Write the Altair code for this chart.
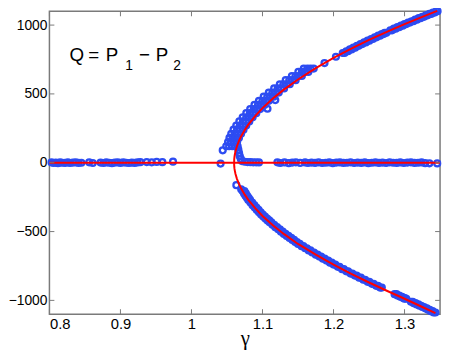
import altair as alt
import pandas as pd

# ---------------- data ----------------
# blue circles lying on Q = 0
zero_g = [0.803, 0.806, 0.809, 0.812, 0.815, 0.818, 0.822, 0.826, 0.829, 0.833, 0.837, 0.841, 0.845,
          0.856, 0.861,
          0.872, 0.876, 0.880, 0.884, 0.888, 0.892, 0.896, 0.900, 0.904, 0.908, 0.912, 0.916, 0.920, 0.924, 0.928,
          0.937, 0.944, 0.951, 0.959, 0.974,
          1.041,
          1.121, 1.125, 1.131, 1.137, 1.142, 1.147, 1.153,
          1.160, 1.164, 1.169, 1.174, 1.179, 1.184, 1.189, 1.194, 1.199, 1.204, 1.209, 1.214, 1.219, 1.224,
          1.229, 1.234, 1.239, 1.244, 1.249, 1.254, 1.259, 1.264, 1.269, 1.274, 1.279, 1.284, 1.289, 1.294,
          1.299, 1.304, 1.309, 1.314, 1.319, 1.324, 1.329,
          1.335, 1.346]
zero_q = [2, -2, 1, -3, 2, 0, -1, 3, -2, 1, 2, -1, 0,
          3, -2,
          1, -2, 2, 0, -3, 1, 2, -1, 3, 0, -2, 1, -1, 2, 4,
          5, 3, 6, 4, 8,
          -6,
          3, -2, 2, -3, 1, 3, -1,
          2, -2, 1, -1, 3, -2, 0, 2, -3, 1, 2, -1, 0, 3,
          -2, 1, -1, 2, -3, 0, 2, -1, 1, -2, 3, 0, -1, 2,
          -2, 1, 3, -1, 0, 2, -3,
          -4, -5]

# circles joining the upper band to the Q = 0 line near the vertex
leg_g = [1.065, 1.066, 1.067, 1.068, 1.0695, 1.071, 1.075, 1.079, 1.083, 1.087, 1.091, 1.095]
leg_q = [120, 95, 70, 48, 28, 12, 7, 5, 4, 3, 3, 2]

# thick band of circles on the upper branch (four rows)
band_left_q = [90, 120, 150, 180, 210, 240, 270, 300, 330, 360, 390, 420, 450, 480, 510, 540, 570, 600, 630, 660, 684]
band_left_g = [1.0440, 1.0490, 1.0515, 1.0535, 1.0560, 1.0592, 1.0631, 1.0674, 1.0721, 1.0772, 1.0827,
               1.0887, 1.0950, 1.1017, 1.1089, 1.1164, 1.1244, 1.1327, 1.1414, 1.1505, 1.1581]
band_inner_q = [120, 150, 180, 210, 240, 270, 300, 330, 360, 390, 420, 450, 480, 510, 540, 570, 600, 630, 660, 684]
band_r3_g = [1.0530, 1.0552, 1.0578, 1.0608, 1.0642, 1.0681, 1.0724, 1.0771, 1.0822, 1.0877, 1.0937,
             1.1000, 1.1067, 1.1139, 1.1214, 1.1294, 1.1377, 1.1464, 1.1555, 1.1631]
band_r2_g = [1.0575, 1.0597, 1.0623, 1.0653, 1.0687, 1.0726, 1.0769, 1.0816, 1.0867, 1.0922, 1.0982,
             1.1045, 1.1112, 1.1184, 1.1259, 1.1339, 1.1422, 1.1509, 1.1600, 1.1676]
band_right_g = [1.0620, 1.0642, 1.0668, 1.0698, 1.0732, 1.0771, 1.0814, 1.0861, 1.0912, 1.0967, 1.1027,
                1.1090, 1.1157, 1.1229, 1.1304, 1.1384, 1.1467, 1.1554, 1.1645, 1.1721]

# isolated circles right of the upper curve
stray_g = [1.107, 1.118]
stray_q = [392, 455]

# circles along the rest of the upper branch
up_g = [1.1873, 1.2034, 1.213, 1.218, 1.223, 1.228, 1.233, 1.238, 1.243, 1.248, 1.253, 1.258, 1.263, 1.268,
        1.272, 1.280, 1.285, 1.290, 1.295, 1.300, 1.305, 1.310, 1.315, 1.320, 1.325, 1.330, 1.335, 1.340, 1.345]
up_q = [724, 770, 797, 810, 823, 836, 849, 862, 874, 887, 899, 911, 923, 935,
        944, 962, 974, 985, 996, 1007, 1018, 1028, 1039, 1050, 1060, 1071, 1081, 1091, 1101]
up2_g = [1.2155, 1.2205, 1.2255, 1.2305, 1.2355, 1.2405, 1.2455, 1.2505, 1.2555, 1.2605, 1.2655, 1.2705,
         1.2745, 1.2825, 1.2875, 1.2925, 1.2975, 1.3025, 1.3075, 1.3125, 1.3175, 1.3225, 1.3275, 1.3325,
         1.3375, 1.3425, 1.3465]
up2_q = [797, 810, 823, 836, 849, 862, 874, 887, 899, 911, 923, 935,
         944, 962, 974, 985, 996, 1007, 1018, 1028, 1039, 1050, 1060, 1071, 1081, 1091, 1101]

# circles along the lower branch
low_g = [1.0632, 1.070, 1.072, 1.074, 1.076, 1.078, 1.080, 1.083, 1.086, 1.089, 1.092, 1.095, 1.098,
         1.101, 1.104, 1.107, 1.110, 1.114, 1.118, 1.122, 1.126, 1.130, 1.134, 1.138, 1.142, 1.146, 1.150,
         1.155, 1.160, 1.165, 1.170, 1.175, 1.180, 1.185, 1.190, 1.195, 1.200, 1.206, 1.212, 1.218, 1.224,
         1.230, 1.236, 1.242, 1.248, 1.254, 1.260, 1.2655, 1.286, 1.290, 1.294, 1.298, 1.300,
         1.309, 1.313, 1.317, 1.321, 1.325, 1.329, 1.333, 1.337, 1.341]
low_q = [-163, -193, -206, -223, -240, -255, -270, -289, -308, -326, -343, -360, -376,
         -391, -405, -419, -433, -451, -468, -484, -501, -517, -532, -546, -561, -576, -590,
         -606, -621, -637, -652, -668, -682, -697, -711, -726, -740, -756, -773, -789, -805,
         -820, -835, -850, -865, -880, -894, -907, -955, -965, -974, -983, -988,
         -1010, -1020, -1029, -1039, -1048, -1058, -1068, -1078, -1088]
low2_g = [1.0745, 1.0765, 1.0785, 1.0805, 1.0825, 1.0855, 1.0885, 1.0915, 1.0945, 1.0975, 1.1005,
          1.1035, 1.1065, 1.1095, 1.1125, 1.1165, 1.1205, 1.1245, 1.1285, 1.1325, 1.1365, 1.1405, 1.1445,
          1.1485, 1.1525, 1.1575, 1.1625, 1.1675, 1.1725, 1.1775, 1.1825, 1.1875, 1.1925, 1.1975, 1.2025,
          1.2085, 1.2145, 1.2205, 1.2265, 1.2325, 1.2385, 1.2445, 1.2505, 1.2565, 1.2625, 1.268,
          1.2885, 1.2925, 1.2965, 1.3005, 1.3025, 1.3115, 1.3155, 1.3195, 1.3235, 1.3275, 1.3315, 1.3355,
          1.3395, 1.3435]
low2_q = [-206, -223, -240, -255, -270, -289, -308, -326, -343, -360, -376,
          -391, -405, -419, -433, -451, -468, -484, -501, -517, -532, -546, -561,
          -576, -590, -606, -621, -637, -652, -668, -682, -697, -711, -726, -740,
          -756, -773, -789, -805, -820, -835, -850, -865, -880, -894, -907,
          -955, -965, -974, -983, -988, -1010, -1020, -1029, -1039, -1048, -1058, -1068,
          -1078, -1088]

# red theoretical curve
red_up_g = [1.0600, 1.0602, 1.0605, 1.061, 1.062, 1.064, 1.067, 1.070, 1.075, 1.080, 1.090, 1.100, 1.115,
            1.130, 1.150, 1.175, 1.200, 1.225, 1.250, 1.275, 1.300, 1.325, 1.346]
red_up_q = [0, 25, 41, 58, 84, 120, 160, 193, 238, 277, 341, 397, 468,
            531, 605, 687, 761, 829, 892, 951, 1007, 1060, 1103]
red_lo_g = [1.0602, 1.0605, 1.061, 1.062, 1.064, 1.067, 1.070, 1.075, 1.080, 1.090, 1.100, 1.115,
            1.130, 1.150, 1.175, 1.200, 1.225, 1.250, 1.275, 1.300, 1.325, 1.3435]
red_lo_q = [-25, -41, -57, -82, -117, -156, -188, -232, -270, -332, -387, -456,
            -517, -590, -668, -740, -808, -870, -930, -988, -1048, -1092]
red_zero_g = [0.8, 1.35]
red_zero_q = [0, 0]

x_ticks = [0.8, 0.9, 1.0, 1.1, 1.2, 1.3]
y_ticks = [-1000, -500, 0, 500, 1000]

# ---------------- build tables ----------------
blue_g = (zero_g + leg_g + band_left_g + band_r3_g + band_r2_g + band_right_g + stray_g
          + up_g + up2_g + low_g + low2_g)
blue_q = (zero_q + leg_q + band_left_q + band_inner_q + band_inner_q + band_inner_q + stray_q
          + up_q + up2_q + low_q + low2_q)
blue_df = pd.DataFrame({"g": blue_g, "q": blue_q})

curve_g = red_up_g[::-1] + red_lo_g
curve_q = red_up_q[::-1] + red_lo_q
curve_df = pd.DataFrame({"g": curve_g, "q": curve_q, "o": list(range(len(curve_g)))})
zero_df = pd.DataFrame({"g": red_zero_g, "q": red_zero_q})
xt_df = pd.DataFrame({"g": x_ticks})
yt_df = pd.DataFrame({"q": y_ticks})

ann_main = pd.DataFrame({"t": ["Q", "=", "P", "\u2212", "P"],
                         "g": [0.8283, 0.8545, 0.8793, 0.9262, 0.9497],
                         "q": [740, 740, 740, 740, 740]})
ann_sub = pd.DataFrame({"t": ["1", "2"], "g": [0.9069, 0.9745], "q": [672, 672]})

# ---------------- styling ----------------
FONT = "Liberation Sans"
BLUE = "#2d4cf2"
RED = "#ff0000"
GREY = "#7a7a7a"
W, H = 396, 307
PAD = {"left": 42, "top": 1, "right": 4, "bottom": 36}

xs = alt.Scale(domain=[0.8, 1.35], nice=False, zero=False)
ys = alt.Scale(domain=[-1100, 1100], nice=False, zero=False)

x_axis = alt.Axis(values=x_ticks, format=".2~f", ticks=False, domain=False, grid=False,
                  labelFont=FONT, labelFontSize=15, labelColor="black", labelPadding=3,
                  title="\u03b3", titleFont="Liberation Serif", titleFontSize=21, titleFontWeight="normal",
                  titleColor="black", titleY=31, titleBaseline="alphabetic")
y_axis = alt.Axis(values=y_ticks, format="d", ticks=False, domain=False, grid=False,
                  labelFont=FONT, labelFontSize=14, labelColor="black", labelPadding=2.5, title=None)


def X():
    return alt.X("g:Q", scale=xs, axis=x_axis)


def Y():
    return alt.Y("q:Q", scale=ys, axis=y_axis)


points = alt.Chart(blue_df).mark_point(shape="circle", filled=False, size=36, strokeWidth=2.3,
                                       color=BLUE, opacity=1).encode(x=X(), y=Y())

zero_line = alt.Chart(zero_df).mark_line(color=RED, strokeWidth=2).encode(x=X(), y=Y())
curve = alt.Chart(curve_df).mark_line(color=RED, strokeWidth=2).encode(x=X(), y=Y(), order="o:Q")

tick_len = 5
xt_bottom = alt.Chart(xt_df).mark_rule(color=GREY, strokeWidth=1).encode(
    x=X(), y=alt.value(H), y2=alt.value(H - tick_len))
xt_top = alt.Chart(xt_df).mark_rule(color=GREY, strokeWidth=1).encode(
    x=X(), y=alt.value(0), y2=alt.value(tick_len))
yt_left = alt.Chart(yt_df).mark_rule(color=GREY, strokeWidth=1).encode(
    y=Y(), x=alt.value(0), x2=alt.value(tick_len))
yt_right = alt.Chart(yt_df).mark_rule(color=GREY, strokeWidth=1).encode(
    y=Y(), x=alt.value(W), x2=alt.value(W - tick_len))

txt_main = alt.Chart(ann_main).mark_text(align="left", baseline="alphabetic", font=FONT,
                                         fontSize=19, color="black").encode(x=X(), y=Y(), text="t:N")
txt_sub = alt.Chart(ann_sub).mark_text(align="left", baseline="alphabetic", font=FONT,
                                       fontSize=14, color="black").encode(x=X(), y=Y(), text="t:N")

chart = alt.layer(points, zero_line, curve, xt_bottom, xt_top, yt_left, yt_right, txt_main, txt_sub).properties(
    width=W, height=H,
    autosize=alt.AutoSizeParams(type="none"),
    padding=PAD,
    background="white",
).configure_view(stroke=GREY, strokeWidth=1.5)

chart.save("out.html", embed_options={"renderer": "svg", "actions": False})
